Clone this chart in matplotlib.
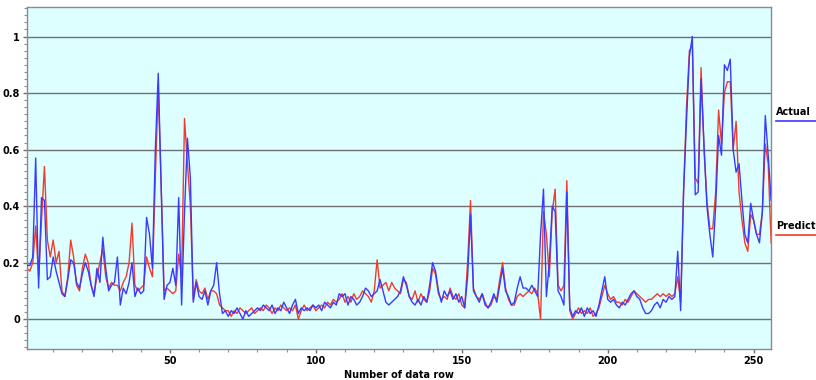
import numpy as np
import matplotlib
matplotlib.use("Agg")
import matplotlib.pyplot as plt
from matplotlib.lines import Line2D
from matplotlib.ticker import MultipleLocator

# actual and predicted values, rows 1..256
actual = [
    0.19, 0.19, 0.22, 0.57, 0.11, 0.43, 0.42, 0.14, 0.15, 0.22,
    0.17, 0.13, 0.09, 0.08, 0.14, 0.21, 0.20, 0.13, 0.11, 0.16,
    0.20, 0.17, 0.12, 0.08, 0.18, 0.13, 0.29, 0.18, 0.10, 0.12,
    0.13, 0.22, 0.05, 0.11, 0.09, 0.13, 0.20, 0.08, 0.11, 0.09,
    0.10, 0.36, 0.30, 0.18, 0.60, 0.87, 0.47, 0.07, 0.12, 0.13,
    0.18, 0.12, 0.43, 0.05, 0.38, 0.64, 0.50, 0.06, 0.13, 0.08,
    0.07, 0.10, 0.05, 0.10, 0.12, 0.20, 0.09, 0.02, 0.03, 0.01,
    0.03, 0.02, 0.04, 0.02, 0.00, 0.03, 0.01, 0.02, 0.03, 0.04,
    0.03, 0.05, 0.04, 0.03, 0.05, 0.02, 0.04, 0.03, 0.06, 0.04,
    0.02, 0.05, 0.07, 0.02, 0.04, 0.03, 0.04, 0.03, 0.05, 0.04,
    0.05, 0.03, 0.06, 0.05, 0.04, 0.06, 0.05, 0.09, 0.08, 0.09,
    0.05, 0.08, 0.07, 0.05, 0.06, 0.08, 0.11, 0.10, 0.08, 0.09,
    0.10, 0.14, 0.10, 0.06, 0.05, 0.06, 0.07, 0.08, 0.10, 0.15,
    0.12, 0.08, 0.06, 0.05, 0.07, 0.05, 0.08, 0.06, 0.12, 0.20,
    0.17, 0.10, 0.06, 0.10, 0.08, 0.10, 0.07, 0.09, 0.06, 0.08,
    0.04, 0.15, 0.37, 0.10, 0.08, 0.06, 0.09, 0.05, 0.04, 0.06,
    0.09, 0.06, 0.12, 0.18, 0.10, 0.08, 0.05, 0.06, 0.11, 0.15,
    0.11, 0.11, 0.10, 0.12, 0.10, 0.08, 0.30, 0.46, 0.08, 0.20,
    0.40, 0.38, 0.10, 0.08, 0.05, 0.45, 0.04, 0.01, 0.03, 0.02,
    0.04, 0.01, 0.04, 0.02, 0.03, 0.01, 0.05, 0.10, 0.15, 0.07,
    0.06, 0.07, 0.05, 0.04, 0.06, 0.05, 0.07, 0.09, 0.10, 0.08,
    0.07, 0.04, 0.02, 0.02, 0.03, 0.05, 0.06, 0.04, 0.07, 0.06,
    0.08, 0.07, 0.08, 0.24, 0.03, 0.45, 0.70, 0.93, 1.00, 0.44,
    0.45, 0.85, 0.62, 0.40, 0.30, 0.22, 0.40, 0.65, 0.58, 0.90,
    0.88, 0.92, 0.60, 0.52, 0.55, 0.42, 0.30, 0.27, 0.41, 0.35,
    0.30, 0.27, 0.38, 0.72, 0.58, 0.42,
]
predicted = [
    0.18, 0.17, 0.20, 0.33, 0.15, 0.35, 0.54, 0.28, 0.22, 0.28,
    0.20, 0.24, 0.10, 0.08, 0.15, 0.28, 0.22, 0.12, 0.10, 0.18,
    0.23, 0.20, 0.12, 0.09, 0.15, 0.20, 0.25, 0.15, 0.11, 0.13,
    0.12, 0.12, 0.10, 0.13, 0.15, 0.20, 0.34, 0.12, 0.10, 0.11,
    0.12, 0.22, 0.18, 0.15, 0.50, 0.82, 0.47, 0.10, 0.11, 0.10,
    0.09, 0.10, 0.23, 0.15, 0.71, 0.55, 0.40, 0.07, 0.14, 0.10,
    0.09, 0.11, 0.07, 0.10, 0.10, 0.09, 0.05, 0.04, 0.03, 0.03,
    0.01, 0.03, 0.02, 0.04, 0.03, 0.02, 0.03, 0.04, 0.02, 0.03,
    0.04, 0.03, 0.05, 0.04, 0.02, 0.04, 0.03, 0.05, 0.04, 0.03,
    0.04, 0.03, 0.05, 0.00, 0.03, 0.05, 0.03, 0.04, 0.05, 0.03,
    0.04, 0.05, 0.04, 0.06, 0.05, 0.07, 0.06, 0.07, 0.09, 0.06,
    0.08, 0.06, 0.09, 0.07, 0.08, 0.10, 0.09, 0.08, 0.06, 0.10,
    0.21, 0.11, 0.12, 0.13, 0.10, 0.13, 0.11, 0.10, 0.09, 0.14,
    0.13, 0.08, 0.07, 0.10, 0.06, 0.09, 0.07, 0.06, 0.10, 0.18,
    0.16, 0.09, 0.07, 0.08, 0.07, 0.11, 0.08, 0.07, 0.09, 0.05,
    0.04, 0.20, 0.42, 0.11, 0.08, 0.07, 0.09, 0.06, 0.04, 0.05,
    0.08, 0.07, 0.14, 0.20, 0.11, 0.07, 0.05, 0.05, 0.08, 0.09,
    0.08, 0.09, 0.10, 0.09, 0.11, 0.09, 0.00, 0.38, 0.30, 0.15,
    0.38, 0.46, 0.12, 0.10, 0.12, 0.49, 0.03, 0.00, 0.02, 0.04,
    0.02, 0.03, 0.02, 0.04, 0.01, 0.02, 0.04, 0.08, 0.12, 0.09,
    0.07, 0.08, 0.06, 0.06, 0.05, 0.07, 0.06, 0.08, 0.10, 0.09,
    0.08, 0.07, 0.06, 0.07, 0.07, 0.08, 0.09, 0.08, 0.09, 0.08,
    0.09, 0.08, 0.09, 0.15, 0.06, 0.45, 0.75, 0.95, 0.97, 0.50,
    0.48, 0.89, 0.60, 0.42, 0.32, 0.32, 0.45, 0.74, 0.62, 0.80,
    0.84, 0.84, 0.60, 0.70, 0.45, 0.35, 0.27, 0.24, 0.37, 0.35,
    0.30, 0.30, 0.38, 0.62, 0.55, 0.27,
]
rows = np.arange(1, len(actual) + 1)

BLUE = "#3a3aff"
RED = "#f03c2c"

fig = plt.figure(figsize=(8.16, 3.8), dpi=100)
ax = fig.add_axes([0.033, 0.082, 0.912, 0.9])
ax.set_facecolor("#ddffff")

for y in np.arange(0, 1.01, 0.2):
    ax.axhline(y, color="#707070", lw=1, zorder=1)

ax.plot(rows, actual, color=BLUE, lw=1, zorder=3)
ax.plot(rows, predicted, color=RED, lw=1, zorder=2)

ax.set_xlim(1, 256)
ax.set_ylim(-0.105, 1.105)
ax.xaxis.set_major_locator(MultipleLocator(50))
ax.xaxis.set_minor_locator(MultipleLocator(10))
ax.set_yticks([0, 0.2, 0.4, 0.6, 0.8, 1])
ax.set_yticklabels(["0", "0.2", "0.4", "0.6", "0.8", "1"])
ax.yaxis.set_minor_locator(MultipleLocator(0.025))
ax.tick_params(which="major", length=3, width=1, color="#707070",
               labelsize=7, pad=2)
ax.tick_params(which="minor", length=2, width=0.8, color="#909090")
for lab in ax.get_xticklabels() + ax.get_yticklabels():
    lab.set_fontweight("bold")
for sp in ax.spines.values():
    sp.set_color("#8a8a8a")
    sp.set_linewidth(1)

ax.set_xlabel("Number of data row", fontsize=7, fontweight="bold", labelpad=3)

# legend outside on the right, cut by the figure edge
fig.text(776 / 816, 1 - 112 / 380, "Actual", fontsize=7, fontweight="bold",
         va="center", ha="left")
fig.add_artist(Line2D([776 / 816, 1.0], [1 - 121 / 380] * 2, color=BLUE, lw=1.2))
fig.text(776 / 816, 1 - 226 / 380, "Predicted", fontsize=7, fontweight="bold",
         va="center", ha="left")
fig.add_artist(Line2D([776 / 816, 1.0], [1 - 235 / 380] * 2, color=RED, lw=1.2))

fig.savefig("out.png", dpi=100)
